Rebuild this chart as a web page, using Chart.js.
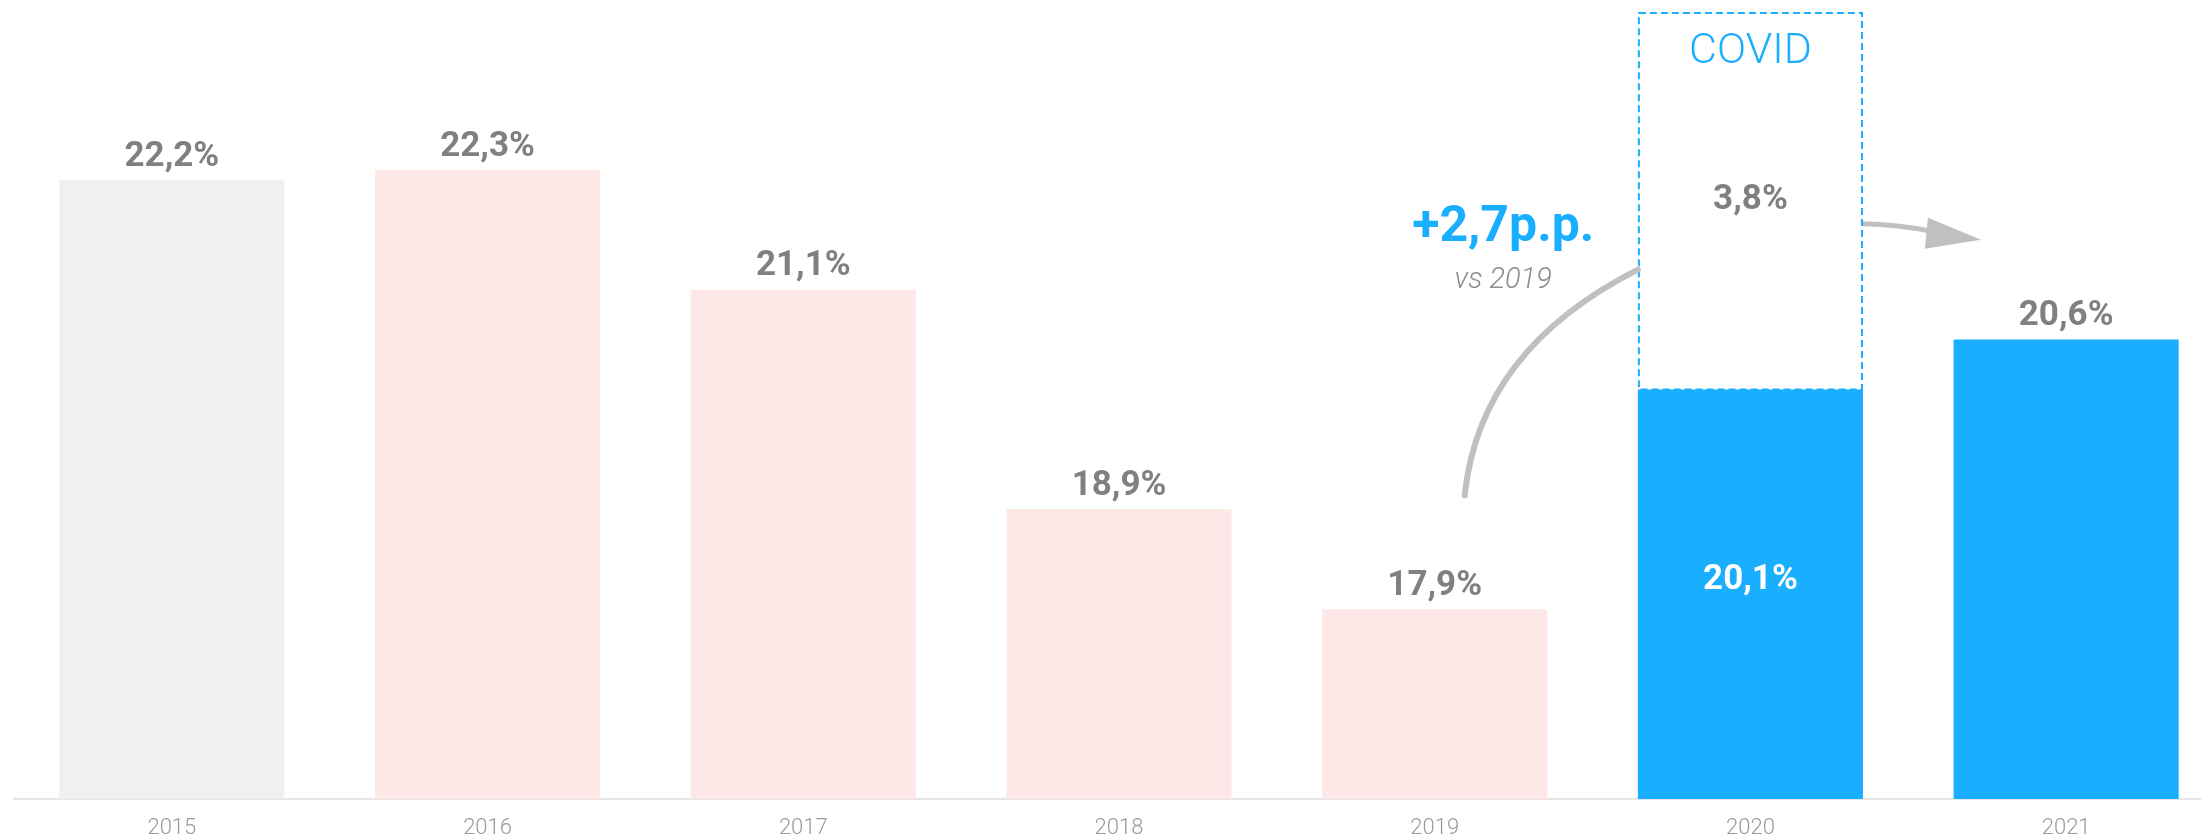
<!DOCTYPE html>
<html>
<head>
<meta charset="utf-8">
<script src="https://cdn.jsdelivr.net/npm/chart.js@4/dist/chart.umd.min.js"></script>
<style>
  html, body { margin: 0; padding: 0; background: #fff; overflow: hidden; }
  .chart-display { width: 2224px; height: 836px; }
</style>
</head>
<body>
<div class="chart-display">
  <canvas id="barChart" width="2224" height="836"></canvas>
</div>
<script>
const years = ["2015", "2016", "2017", "2018", "2019", "2020", "2021"];
const shareValues = [22.2, 22.3, 21.1, 18.9, 17.9, 20.1, 20.6];
const covidExtra = [null, null, null, null, null, 3.8, null];
const barColors = ["#f0f0f0", "#fde8e7", "#fde8e7", "#fde8e7", "#fde8e7", "#1aaeff", "#1aaeff"];

const deltaText = "+2,7p.p.";
const deltaSubText = "vs 2019";
const covidText = "COVID";

const BLUE = "#1aaeff";
const GREY_TEXT = "#808080";
const ARROW = "#c0c0c0";

function fmt(v) {
    return v.toFixed(1).replace(".", ",") + "%";
}

const labelPlugin = {
    id: "labels",
    afterDatasetsDraw(chart) {
        const ctx = chart.ctx;
        const xs = chart.scales.x;
        const ys = chart.scales.y;
        const covid = chart.getDatasetMeta(1);

        ctx.save();
        ctx.textAlign = "center";
        ctx.textBaseline = "middle";

        // dashed covid box
        covid.data.forEach((bar, i) => {
            if (covidExtra[i] === null) return;
            const left = bar.x - bar.width / 2;
            const top = bar.y + 3;
            ctx.save();
            ctx.strokeStyle = BLUE;
            ctx.lineWidth = 2;
            ctx.setLineDash([7, 4]);
            ctx.strokeRect(left + 1, top, bar.width - 2, bar.base - top);
            ctx.restore();

            ctx.fillStyle = GREY_TEXT;
            ctx.font = "bold 35px Roboto";
            ctx.fillText(fmt(covidExtra[i]), bar.x, (bar.y + bar.base) / 2);

            ctx.fillStyle = BLUE;
            ctx.font = "300 43px Roboto";
            ctx.fillText(covidText, bar.x, top + 39);

            // curve from 2019 to the covid box
            ctx.strokeStyle = ARROW;
            ctx.lineWidth = 6;
            ctx.lineCap = "round";
            const sx = xs.getPixelForValue(4.095), sy = ys.getPixelForValue(19.04);
            const ex = left, ey = ys.getPixelForValue(21.3);
            ctx.beginPath();
            ctx.moveTo(sx, sy);
            ctx.quadraticCurveTo(sx + 15, ys.getPixelForValue(20.5), ex, ey);
            ctx.stroke();

            // arrow to 2021
            const rx = left + bar.width;
            const ry = ys.getPixelForValue(21.76);
            const tipX = xs.getPixelForValue(5.73), tipY = ys.getPixelForValue(21.6);
            ctx.lineWidth = 5;
            ctx.lineCap = "butt";
            ctx.beginPath();
            ctx.moveTo(rx, ry);
            ctx.quadraticCurveTo(rx + 35, ry + 1, tipX - 52, ry + 7);
            ctx.stroke();
            ctx.fillStyle = ARROW;
            ctx.beginPath();
            ctx.moveTo(tipX - 53, ry - 6);
            ctx.lineTo(tipX, tipY);
            ctx.lineTo(tipX - 56, ry + 25);
            ctx.closePath();
            ctx.fill();
        });

        // delta annotation
        const ax = xs.getPixelForValue(4.217);
        ctx.fillStyle = BLUE;
        ctx.font = "bold 50px Roboto";
        ctx.fillText(deltaText, ax, ys.getPixelForValue(21.71));
        ctx.fillStyle = "#8c8c8c";
        ctx.font = "italic 300 29px Roboto";
        ctx.fillText(deltaSubText, ax, ys.getPixelForValue(21.19));

        // value labels
        ctx.font = "bold 35px Roboto";
        shareValues.forEach((v, i) => {
            const cx = xs.getPixelForValue(i);
            const top = ys.getPixelForValue(v);
            if (covidExtra[i] !== null) {
                const bottom = ys.getPixelForValue(ys.min);
                ctx.fillStyle = "#ffffff";
                ctx.fillText(fmt(v), cx, top + (bottom - top) * 0.466);
            } else {
                ctx.fillStyle = GREY_TEXT;
                ctx.fillText(fmt(v), cx, top - 23);
            }
        });
        ctx.restore();
    }
};

function createChart() {
    return new Chart("barChart", {
        type: "bar",
        data: {
            labels: years,
            datasets: [{
                label: "Share",
                data: shareValues,
                backgroundColor: barColors,
                borderWidth: 0,
                barPercentage: 0.713,
                categoryPercentage: 1
            }, {
                label: "COVID",
                data: covidExtra,
                backgroundColor: "rgba(255,255,255,0)",
                borderWidth: 0,
                barPercentage: 0.713,
                categoryPercentage: 1
            }]
        },
        options: {
            responsive: false,
            animation: false,
            devicePixelRatio: 1,
            layout: { padding: { left: 14, right: 0, top: 0, bottom: 0 } },
            plugins: {
                legend: { display: false },
                tooltip: { enabled: false },
                title: { display: false }
            },
            scales: {
                x: {
                    stacked: true,
                    grid: { display: false, drawTicks: false },
                    border: { display: true, color: "#e6e6e6", width: 2 },
                    ticks: {
                        color: "#9a9a9a",
                        font: { family: "Roboto", size: 22, weight: "300" },
                        padding: 16
                    },
                    afterFit: (s) => { s.height = 37; }
                },
                y: {
                    stacked: true,
                    display: false,
                    min: 16,
                    max: 24
                }
            }
        },
        plugins: [labelPlugin]
    });
}

window.addEventListener("load", () => {
    createChart();
});
</script>
</body>
</html>
